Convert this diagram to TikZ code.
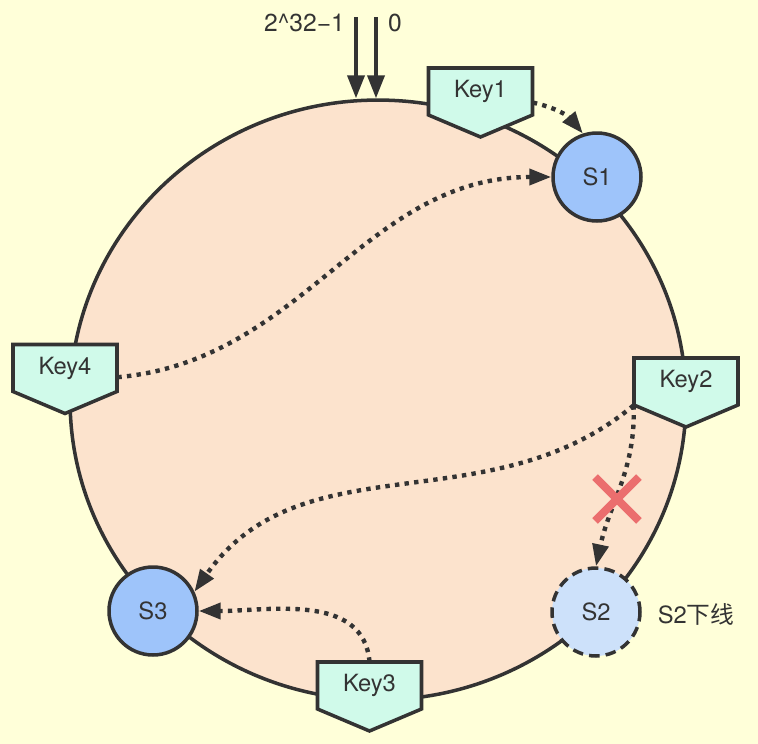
\documentclass[tikz,border=0pt]{standalone}
\usepackage{fontspec}
\setmainfont{TeX Gyre Heros}
\newfontfamily\cjk{Noto Sans CJK SC}
\usetikzlibrary{arrows.meta,shapes.geometric,shapes.misc}
\definecolor{bgyellow}{RGB}{255,255,217}
\definecolor{ringpeach}{RGB}{252,227,205}
\definecolor{keymint}{RGB}{208,250,234}
\definecolor{serverblue}{RGB}{158,196,250}
\definecolor{serverpale}{RGB}{205,225,250}
\definecolor{linegray}{RGB}{51,51,51}
\definecolor{crossred}{RGB}{235,110,110}
\tikzset{
  ring/.style={ellipse, draw=linegray, fill=ringpeach, line width=2pt,
    minimum width=12.32cm, minimum height=12cm, inner sep=0pt},
  keybox/.style={draw=linegray, fill=keymint, line width=2pt},
  keytext/.style={minimum width=2.08cm, minimum height=0.94cm, inner sep=0pt},
  server/.style={circle, draw=linegray, fill=serverblue, line width=2pt,
    minimum size=1.76cm, inner sep=0pt},
  downserver/.style={server, fill=serverpale, dash pattern=on 6pt off 3.5pt},
  toparrow/.style={draw=linegray, line width=2.2pt, -{Triangle[length=13pt,width=9.6pt]}},
  link/.style={draw=linegray, line width=2.5pt, dash pattern=on 2.5pt off 3pt,
    -{Triangle[length=12.5pt,width=9pt]}},
}
\begin{document}
\begin{tikzpicture}[x=0.02cm, y=-0.02cm,
    every node/.style={font=\fontsize{13.5}{15}\selectfont, text=linegray}]
  \fill[bgyellow] (0,0) rectangle (758,744);
  \useasboundingbox (0,0) rectangle (758,744);
  \node[ring] (ring) at (378,400) {};
  % hash space ends
  \coordinate (maxtop) at (356,17);
  \coordinate (zerotop) at (376,17);
  \draw[toparrow] (maxtop) -- (maxtop |- ring.north);
  \draw[toparrow] (zerotop) -- (zerotop |- ring.north);
  \node[anchor=east, font=\fontsize{14}{16}\selectfont] (maxlbl) at (351,23) {2\textasciicircum32−1};
  \node[font=\fontsize{14}{16}\selectfont] (zerolbl) at (395,23) {0};
  % keys
  \foreach \n/\x/\y/\t in {k1/480.5/91.5/Key1, k2/686/381.5/Key2,
                          k3/369.5/685.5/Key3, k4/65/368/Key4} {
    \filldraw[keybox] (\x-52,\y-23.5) -- (\x+52,\y-23.5) -- (\x+52,\y+23.5)
      -- (\x,\y+45.5) -- (\x-52,\y+23.5) -- cycle;
    \node[keytext] (\n) at (\x,\y) {\t};
  }
  % servers
  \node[server] (s1) at (597,177) {S1};
  \node[server] (s3) at (153,611) {S3};
  \node[downserver] (s2) at (596,612) {S2};
  \node (s2lbl) at (696,614) {S2{\cjk 下线}};
  % lookups
  \draw[link] (k1.-12) to[out=-12,in=130] (s1.108);
  \draw[link] (k4.-10) to[out=5,in=180] (s1.west);
  \draw[link] (k2.south west) to[out=-140,in=55] (s3.25);
  \draw[link] (k2.south west) to[out=-88,in=78] (s2.north);
  \draw[link] (k3.north) to[out=95,in=0] (s3.east);
  \node[cross out, draw=crossred, line width=4.5pt, minimum size=0.72cm,
    inner sep=0pt] (cut) at (617,499) {};
\end{tikzpicture}
\end{document}
